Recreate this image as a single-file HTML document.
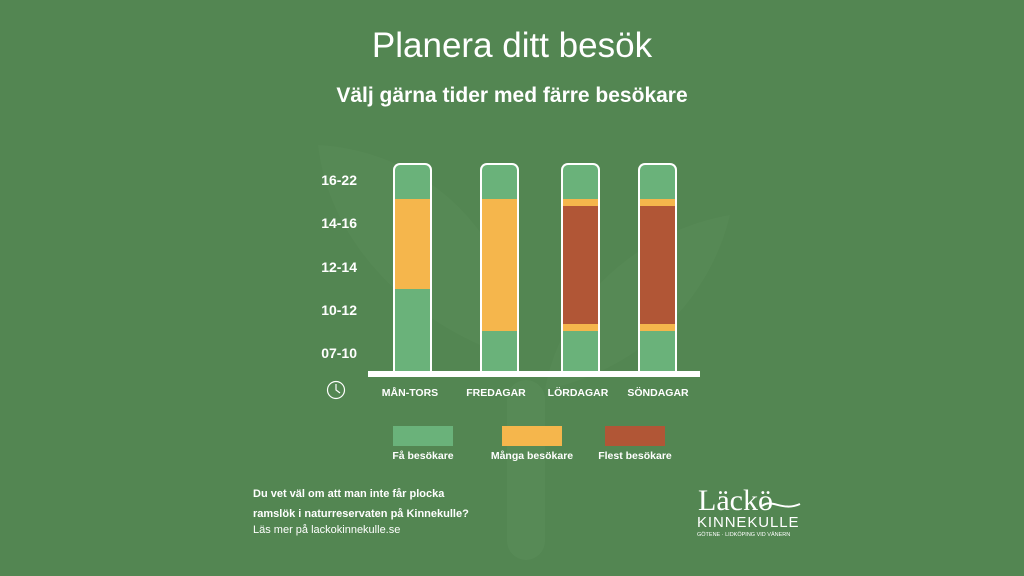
<!DOCTYPE html>
<html><head><meta charset="utf-8"><style>
body{margin:0;width:1024px;height:576px;overflow:hidden;background:#538652;font-family:"Liberation Sans",sans-serif;color:#fff;position:relative}
.a{position:absolute}
.t{white-space:nowrap}
.bar{position:absolute;width:35px;top:163px;height:208px;border:2px solid #fff;border-bottom:none;border-radius:7px 7px 0 0;overflow:hidden;background:#6ab27a}
.bar div{position:absolute;left:0;right:0}
.o{background:#f5b64c}.r{background:#b15636}
.yl{position:absolute;right:667px;font-size:14px;font-weight:bold}
.cl{position:absolute;font-size:10.5px;font-weight:bold;top:387px;width:100px;text-align:center}
.lg{position:absolute;top:426px;width:60px;height:20px}
.ll{position:absolute;top:450px;font-size:10.5px;font-weight:bold;width:120px;text-align:center}
</style></head><body>
<svg class="a" style="left:0;top:0" width="1024" height="576">
<path d="M318 145 C420 150 520 230 520 360 C420 330 330 250 318 145Z" fill="#5a8c58" opacity="0.5"/>
<path d="M730 215 C640 230 560 300 545 390 C640 370 710 300 730 215Z" fill="#5a8c58" opacity="0.5"/>
<rect x="507" y="380" width="38" height="180" rx="19" fill="#5a8c58" opacity="0.7"/>
</svg>
<div class="a t" style="left:0;width:1024px;text-align:center;top:26px;font-size:35px">Planera ditt besök</div>
<div class="a t" style="left:0;width:1024px;text-align:center;top:84px;font-size:21px;font-weight:bold">Välj gärna tider med färre besökare</div>
<div class="yl" style="top:172px">16-22</div>
<div class="yl" style="top:215px">14-16</div>
<div class="yl" style="top:259px">12-14</div>
<div class="yl" style="top:302px">10-12</div>
<div class="yl" style="top:345px">07-10</div>
<div class="bar" style="left:393px"><div class="o" style="top:34px;height:90px"></div></div>
<div class="bar" style="left:480px"><div class="o" style="top:34px;height:132px"></div></div>
<div class="bar" style="left:561px"><div class="o" style="top:34px;height:132px"></div><div class="r" style="top:41px;height:118px"></div></div>
<div class="bar" style="left:638px"><div class="o" style="top:34px;height:132px"></div><div class="r" style="top:41px;height:118px"></div></div>
<div class="a" style="left:368px;top:371px;width:332px;height:6px;background:#fff"></div>
<svg class="a" style="left:326px;top:380px" width="20" height="20"><circle cx="10" cy="10" r="8.5" fill="none" stroke="#fff" stroke-width="1.2"/><path d="M10 4V10L14 13" fill="none" stroke="#fff" stroke-width="1.2"/></svg>
<div class="cl" style="left:360px">MÅN-TORS</div>
<div class="cl" style="left:446px">FREDAGAR</div>
<div class="cl" style="left:528px">LÖRDAGAR</div>
<div class="cl" style="left:608px">SÖNDAGAR</div>
<div class="lg" style="left:393px;background:#6ab27a"></div>
<div class="lg" style="left:502px;background:#f5b64c"></div>
<div class="lg" style="left:605px;background:#b15636"></div>
<div class="ll" style="left:363px">Få besökare</div>
<div class="ll" style="left:472px">Många besökare</div>
<div class="ll" style="left:575px">Flest besökare</div>
<div class="a t" style="left:253px;top:484px;font-size:11px;font-weight:bold;line-height:20px">Du vet väl om att man inte får plocka<br>ramslök i naturreservaten på Kinnekulle?</div>
<div class="a t" style="left:253px;top:524px;font-size:11px">Läs mer på lackokinnekulle.se</div>
<div class="a t" style="left:698px;top:484px;font-family:'Liberation Serif',serif;font-size:30px">Läckö</div>
<svg class="a" style="left:760px;top:498px" width="42" height="16"><path d="M2 8 C12 0 22 14 40 6" fill="none" stroke="#fff" stroke-width="2"/></svg>
<div class="a t" style="left:697px;top:514px;font-size:15px;letter-spacing:0.9px">KINNEKULLE</div>
<div class="a t" style="left:697px;top:532px;font-size:5.5px">GÖTENE · LIDKÖPING VID VÄNERN</div>
</body></html>
